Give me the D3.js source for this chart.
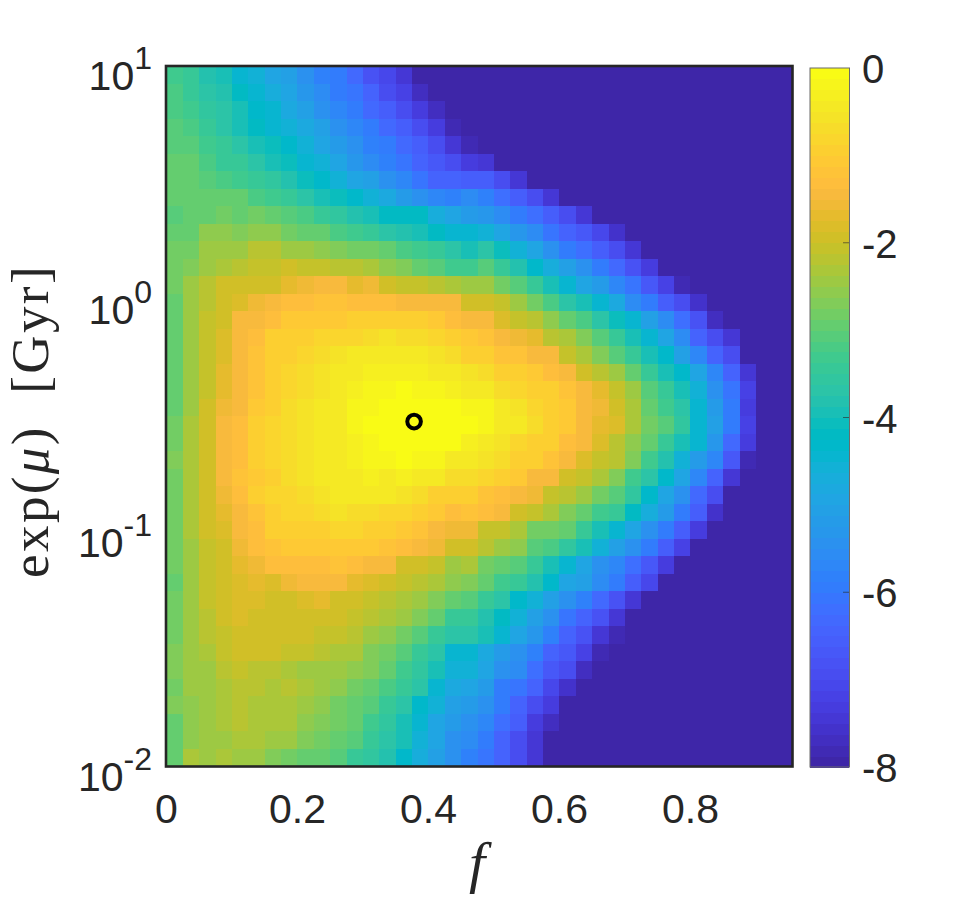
<!DOCTYPE html>
<html><head><meta charset="utf-8">
<script src="https://cdn.jsdelivr.net/npm/d3@7/dist/d3.min.js"></script>
<style>html,body{margin:0;padding:0;background:#fff}svg{display:block}text{fill:#262626}</style>
</head><body><svg id="c" width="973" height="903"></svg>
<script>
const xTicks = [0, 0.2, 0.4, 0.6, 0.8];
const yTickExponents = [1, 0, -1, -2];
const colorbarTicks = [0, -2, -4, -6, -8];
const colStep = 0.025;
const columnCount = 39;
const floorValue = -8;
const bestFit = {f: 0.378, mu: 0.30};
const parula = [[.2422,.1504,.6603],[.2504,.165,.7076],[.2578,.1818,.7511],[.2647,.1978,.7952],[.2706,.2147,.8364],[.2751,.2342,.871],[.2783,.2559,.8991],[.2803,.2782,.9221],[.2813,.3006,.9414],[.281,.3228,.9579],[.2795,.3447,.9717],[.276,.3667,.9829],[.2699,.3892,.9906],[.2602,.4123,.9952],[.244,.4358,.9988],[.2206,.4603,.9973],[.1963,.4847,.9892],[.1834,.5074,.9798],[.1786,.5289,.9682],[.1764,.5499,.952],[.1687,.5703,.9359],[.154,.5902,.9218],[.146,.6091,.9079],[.138,.6276,.8973],[.1248,.6459,.8883],[.1113,.6635,.8763],[.0952,.6798,.8598],[.0689,.6948,.8394],[.0297,.7082,.8163],[.0036,.7203,.7917],[.0067,.7312,.766],[.0433,.7411,.7394],[.0964,.75,.712],[.1408,.7584,.6842],[.1717,.767,.6554],[.1938,.7758,.6251],[.2161,.7843,.5923],[.247,.7918,.5567],[.2906,.7973,.5188],[.3406,.8008,.4789],[.3909,.8029,.4354],[.4456,.8024,.3909],[.5044,.7993,.348],[.5616,.7942,.3045],[.6174,.7876,.2612],[.672,.7793,.2227],[.7242,.7698,.191],[.7738,.7598,.1646],[.8203,.7498,.1535],[.8634,.7406,.1596],[.9035,.733,.1774],[.9393,.7288,.21],[.9728,.7298,.2394],[.9956,.7434,.2371],[.997,.7659,.2199],[.9952,.7893,.2028],[.9892,.8136,.1885],[.9786,.8386,.1766],[.9676,.8639,.1643],[.961,.889,.1537],[.9597,.9135,.1423],[.9628,.9373,.1265],[.9691,.9606,.1064],[.9769,.9839,.0805]];
// log-probability per row (top = exp(mu)=10 down to 0.01), per f column; cells past a row's end sit at the floor
const logProb = [
[-3.3,-3.5,-3.8,-3.9,-4.4,-4.6,-4.9,-5.1,-5.5,-5.8,-6.0,-6.3,-6.8,-7.1,-7.4],
[-3.2,-3.4,-3.7,-3.8,-4.2,-4.5,-4.7,-5.0,-5.3,-5.6,-5.9,-6.1,-6.5,-6.9,-7.2,-7.7],
[-3.2,-3.3,-3.6,-3.7,-4.0,-4.3,-4.5,-4.8,-5.1,-5.4,-5.7,-6.0,-6.3,-6.6,-6.9,-7.3,-7.7],
[-3.1,-3.2,-3.4,-3.7,-3.9,-4.2,-4.4,-4.6,-4.8,-5.1,-5.4,-5.7,-6.0,-6.3,-6.6,-6.9,-7.3,-7.8],
[-3.1,-3.1,-3.3,-3.5,-3.7,-3.9,-4.1,-4.3,-4.6,-4.9,-5.2,-5.5,-5.8,-6.0,-6.3,-6.6,-7.0,-7.4,-7.8,-7.9],
[-3.0,-3.0,-3.2,-3.4,-3.5,-3.7,-3.9,-4.1,-4.4,-4.6,-5.0,-5.3,-5.6,-5.8,-6.1,-6.4,-6.7,-7.0,-7.3,-7.4,-7.9],
[-3.0,-3.0,-3.1,-3.2,-3.3,-3.4,-3.6,-3.8,-4.1,-4.3,-4.6,-4.9,-5.1,-5.5,-5.7,-6.1,-6.4,-6.5,-6.6,-6.6,-6.9,-7.4,-7.9],
[-3.0,-3.0,-3.0,-3.0,-3.0,-3.2,-3.3,-3.4,-3.7,-3.9,-4.1,-4.3,-4.6,-4.8,-5.2,-5.4,-5.7,-5.8,-5.6,-5.8,-6.2,-6.6,-7.0,-7.4,-7.9],
[-3.1,-2.9,-2.9,-2.8,-2.9,-2.8,-2.9,-3.1,-3.2,-3.4,-3.6,-3.8,-3.9,-4.2,-4.2,-4.2,-4.7,-5.0,-5.2,-5.3,-5.6,-5.9,-6.2,-6.6,-7.0,-7.4,-7.9],
[-3.0,-2.9,-2.6,-2.6,-2.7,-2.6,-2.6,-2.8,-2.9,-3.0,-3.2,-3.3,-3.5,-3.7,-3.8,-3.9,-4.2,-4.4,-4.5,-4.6,-4.9,-5.3,-5.6,-6.1,-6.5,-6.7,-7.1,-7.6,-7.9],
[-2.8,-2.8,-2.5,-2.4,-2.4,-2.2,-2.2,-2.4,-2.5,-2.6,-2.7,-2.8,-2.8,-3.0,-3.2,-3.3,-3.5,-3.7,-3.9,-3.7,-4.1,-4.6,-5.0,-5.5,-5.9,-6.2,-6.6,-6.9,-7.5,-7.9],
[-2.8,-2.7,-2.4,-2.3,-2.2,-2.1,-2.1,-2.0,-2.1,-2.1,-2.2,-2.2,-2.3,-2.6,-2.7,-2.9,-3.1,-3.3,-3.3,-3.1,-3.4,-3.8,-4.3,-4.7,-5.1,-5.5,-5.9,-6.3,-6.8,-7.3,-7.9],
[-2.8,-2.5,-2.2,-2.0,-2.0,-1.9,-1.9,-1.7,-1.6,-1.5,-1.5,-1.7,-1.6,-1.9,-2.1,-2.1,-2.2,-2.3,-2.4,-2.5,-2.8,-3.1,-3.5,-4.0,-4.4,-4.9,-5.2,-5.7,-6.1,-6.7,-7.2,-7.8],
[-2.9,-2.5,-2.2,-1.9,-1.8,-1.6,-1.5,-1.3,-1.3,-1.2,-1.2,-1.3,-1.3,-1.3,-1.5,-1.4,-1.5,-1.5,-1.9,-1.9,-2.1,-2.4,-2.8,-3.2,-3.7,-4.0,-4.5,-4.8,-5.6,-6.0,-6.6,-7.0,-7.6],
[-2.9,-2.4,-2.1,-1.9,-1.5,-1.4,-1.3,-1.1,-1.1,-1.1,-1.1,-1.0,-0.9,-0.9,-0.9,-1.0,-1.1,-1.3,-1.4,-1.5,-1.8,-2.1,-2.2,-2.6,-2.9,-3.2,-3.7,-4.1,-4.5,-5.1,-5.6,-6.2,-6.8,-7.7],
[-2.9,-2.4,-2.1,-1.8,-1.5,-1.3,-1.0,-1.0,-0.9,-0.8,-0.8,-0.8,-0.7,-0.6,-0.7,-0.7,-0.8,-1.0,-1.1,-1.2,-1.4,-1.6,-1.7,-2.2,-2.3,-2.7,-3.1,-3.4,-3.9,-4.5,-5.0,-5.6,-6.4,-6.9,-7.5],
[-2.9,-2.5,-2.1,-1.8,-1.5,-1.2,-1.0,-0.9,-0.8,-0.7,-0.6,-0.5,-0.5,-0.4,-0.5,-0.5,-0.6,-0.7,-0.9,-1.0,-1.2,-1.2,-1.4,-1.5,-2.1,-2.3,-2.7,-3.1,-3.4,-4.0,-4.3,-5.1,-5.7,-6.4,-7.0],
[-2.9,-2.5,-2.1,-1.7,-1.5,-1.2,-0.9,-0.8,-0.7,-0.6,-0.5,-0.4,-0.3,-0.3,-0.3,-0.3,-0.4,-0.5,-0.6,-0.7,-1.0,-1.0,-1.1,-1.3,-1.4,-2.0,-2.2,-2.5,-3.0,-3.4,-3.9,-4.3,-5.0,-5.7,-6.4,-7.5],
[-2.9,-2.4,-2.1,-1.7,-1.4,-1.2,-0.9,-0.8,-0.7,-0.6,-0.4,-0.3,-0.2,-0.2,-0.1,-0.2,-0.2,-0.3,-0.4,-0.5,-0.7,-0.8,-0.9,-1.0,-1.2,-1.4,-1.7,-2.1,-2.5,-3.1,-3.5,-3.9,-4.6,-5.4,-6.1,-7.2],
[-2.9,-2.4,-2.0,-1.6,-1.4,-1.1,-0.9,-0.7,-0.6,-0.5,-0.4,-0.2,-0.2,-0.1,-0.1,0,-0.1,-0.1,-0.2,-0.2,-0.5,-0.6,-0.8,-0.9,-1.1,-1.4,-1.6,-2.0,-2.3,-2.9,-3.3,-3.7,-4.5,-5.2,-6.0,-7.3],
[-2.8,-2.3,-2.0,-1.5,-1.3,-1.0,-0.8,-0.7,-0.6,-0.5,-0.4,-0.2,-0.1,-0.1,0,0,0,-0.1,-0.1,-0.2,-0.4,-0.5,-0.7,-0.9,-1.1,-1.4,-1.7,-1.8,-2.3,-2.8,-3.1,-3.6,-4.5,-5.1,-5.9,-7.2],
[-2.8,-2.3,-2.0,-1.5,-1.3,-1.0,-0.8,-0.7,-0.6,-0.5,-0.5,-0.3,-0.2,-0.1,-0.1,-0.1,0,-0.1,-0.3,-0.5,-0.6,-0.8,-0.9,-1.0,-1.3,-1.5,-1.8,-2.2,-2.6,-3.0,-3.4,-3.9,-4.5,-5.3,-6.3,-7.3],
[-2.7,-2.3,-2.0,-1.5,-1.3,-1.0,-0.8,-0.7,-0.6,-0.5,-0.4,-0.3,-0.2,-0.2,-0.1,-0.2,-0.2,-0.4,-0.4,-0.6,-0.7,-1.0,-1.0,-1.2,-1.5,-1.8,-2.1,-2.2,-2.7,-3.3,-3.8,-4.6,-5.2,-5.7,-6.7,-7.8],
[-2.8,-2.3,-2.0,-1.5,-1.2,-1.1,-0.9,-0.7,-0.6,-0.5,-0.5,-0.4,-0.3,-0.4,-0.3,-0.4,-0.5,-0.7,-0.7,-0.8,-1.0,-1.1,-1.4,-1.4,-1.9,-2.1,-2.3,-2.7,-3.3,-3.7,-4.3,-5.0,-5.7,-6.5,-7.4],
[-2.8,-2.3,-1.9,-1.6,-1.3,-1.0,-0.8,-0.8,-0.7,-0.6,-0.5,-0.5,-0.5,-0.5,-0.6,-0.7,-0.9,-1.0,-1.0,-1.2,-1.3,-1.5,-1.6,-2.1,-2.2,-2.4,-2.8,-3.1,-3.6,-4.3,-4.9,-5.5,-6.3,-7.0],
[-2.8,-2.3,-2.0,-1.7,-1.4,-1.2,-0.9,-0.8,-0.8,-0.7,-0.6,-0.7,-0.7,-0.8,-0.8,-1.0,-1.1,-1.3,-1.2,-1.3,-1.5,-1.9,-2.1,-2.3,-2.7,-2.9,-3.3,-3.5,-4.2,-4.7,-5.2,-6.0,-6.6,-7.6],
[-2.8,-2.3,-2.0,-1.8,-1.4,-1.3,-1.0,-1.0,-0.9,-0.9,-0.8,-0.8,-0.9,-0.9,-1.1,-1.2,-1.4,-1.6,-1.6,-2.1,-2.1,-2.3,-2.8,-2.8,-3.0,-3.4,-3.9,-4.4,-5.0,-5.5,-6.0,-6.6,-7.3],
[-2.8,-2.4,-2.1,-1.9,-1.6,-1.3,-1.2,-1.1,-1.1,-1.1,-1.1,-1.1,-1.1,-1.2,-1.3,-1.4,-1.6,-2.0,-2.0,-2.2,-2.4,-2.6,-3.1,-3.2,-3.6,-3.9,-4.6,-5.1,-5.5,-5.9,-6.6,-7.2],
[-2.8,-2.4,-2.1,-1.9,-1.7,-1.6,-1.3,-1.3,-1.3,-1.3,-1.2,-1.3,-1.4,-1.4,-1.9,-2.0,-2.1,-2.4,-2.3,-2.8,-3.0,-3.1,-3.5,-3.9,-4.5,-4.9,-5.4,-5.7,-6.2,-6.7,-7.3],
[-2.9,-2.4,-2.1,-2.0,-1.8,-1.7,-1.8,-1.6,-1.4,-1.4,-1.5,-1.7,-1.8,-1.9,-2.1,-2.2,-2.3,-2.6,-2.7,-3.0,-3.3,-3.5,-3.8,-4.3,-4.9,-5.1,-5.6,-6.0,-6.6,-7.1],
[-2.8,-2.5,-2.1,-2.0,-1.8,-1.8,-1.9,-1.9,-1.8,-1.7,-1.9,-2.0,-2.1,-2.2,-2.3,-2.5,-2.7,-3.0,-3.1,-3.5,-3.7,-4.3,-4.6,-5.1,-5.4,-5.8,-6.3,-6.8,-7.4],
[-2.8,-2.5,-2.2,-2.0,-1.8,-1.9,-1.9,-2.0,-1.9,-1.9,-2.0,-2.1,-2.2,-2.3,-2.4,-2.7,-3.0,-3.4,-3.4,-3.8,-4.2,-4.6,-5.1,-5.5,-6.1,-6.4,-6.8,-7.4,-7.9],
[-2.8,-2.4,-2.2,-2.1,-2.0,-1.9,-1.9,-2.0,-2.0,-2.1,-2.1,-2.2,-2.4,-2.6,-2.8,-3.1,-3.4,-3.7,-3.7,-4.0,-4.5,-4.9,-5.3,-5.8,-6.4,-6.8,-7.4,-7.8],
[-2.7,-2.4,-2.3,-2.1,-2.0,-2.0,-2.0,-2.1,-2.1,-2.2,-2.3,-2.3,-2.7,-2.8,-3.1,-3.4,-3.7,-4.5,-4.5,-4.8,-5.2,-5.5,-5.8,-6.4,-6.7,-7.2,-7.8],
[-2.7,-2.5,-2.4,-2.2,-2.1,-2.2,-2.2,-2.3,-2.4,-2.4,-2.5,-2.6,-2.7,-3.0,-3.3,-3.6,-4.0,-4.6,-4.6,-5.0,-5.4,-5.6,-6.2,-6.7,-7.0,-7.7],
[-2.8,-2.5,-2.4,-2.3,-2.2,-2.2,-2.3,-2.2,-2.3,-2.5,-2.6,-2.8,-3.0,-3.2,-3.5,-3.7,-4.4,-4.8,-5.0,-5.2,-5.9,-6.1,-6.5,-7.1,-7.6],
[-2.7,-2.6,-2.4,-2.3,-2.2,-2.3,-2.3,-2.3,-2.5,-2.6,-2.8,-2.9,-3.1,-3.4,-3.7,-4.3,-4.6,-5.1,-5.2,-5.4,-5.9,-6.4,-6.9,-7.3,-7.9],
[-3.0,-2.6,-2.5,-2.3,-2.2,-2.3,-2.3,-2.3,-2.6,-2.7,-2.8,-3.0,-3.3,-3.6,-3.9,-4.5,-4.9,-5.2,-5.4,-5.7,-6.2,-6.6,-7.3,-7.7],
[-2.9,-2.6,-2.5,-2.4,-2.3,-2.3,-2.4,-2.5,-2.7,-2.8,-2.9,-3.1,-3.4,-3.7,-4.0,-4.6,-5.0,-5.4,-5.6,-5.9,-6.5,-6.9,-7.4,-7.9],
[-2.9,-2.3,-2.5,-2.3,-2.4,-2.4,-2.7,-2.8,-2.9,-3.0,-3.1,-3.4,-3.6,-3.8,-4.3,-4.7,-5.1,-5.5,-5.8,-6.1,-6.5,-7.0,-7.5]
];
const svg = d3.select("#c");
const x = d3.scaleLinear().domain([0, 0.955]).range([166.5, 792]);
const y = d3.scaleLog().domain([0.01, 10]).range([766.5, 66]);
const cb = d3.scaleLinear().domain([floorValue, 0]).range([767, 68]);
const hex = parula.map(c => d3.rgb(c[0]*255, c[1]*255, c[2]*255).formatHex());
const color = d3.scaleQuantize().domain([floorValue, 0]).range(hex);
const rowCount = logProb.length;
const rowExp = i => 1 - 3 * i / rowCount;
const cells = logProb.flatMap((row, r) => d3.range(columnCount).map(c => ({r, c, v: c < row.length ? row[c] : floorValue})));
const g = svg.append("g").attr("shape-rendering", "crispEdges");
g.selectAll("rect").data(cells).join("rect")
  .attr("x", d => x(d.c * colStep))
  .attr("width", d => Math.min(x(0.955), x((d.c + 1) * colStep)) - x(d.c * colStep))
  .attr("y", d => y(Math.pow(10, rowExp(d.r))))
  .attr("height", d => y(Math.pow(10, rowExp(d.r + 1))) - y(Math.pow(10, rowExp(d.r))))
  .attr("fill", d => color(d.v));
svg.append("rect").attr("x", 166).attr("y", 66).attr("width", 626.5).attr("height", 700.5)
  .attr("fill", "none").attr("stroke", "#262626").attr("stroke-width", 2.6);
svg.append("circle").attr("cx", x(bestFit.f)).attr("cy", y(bestFit.mu)).attr("r", 6.8)
  .attr("fill", "none").attr("stroke", "#000").attr("stroke-width", 4);
const tickFont = "Liberation Sans, Arial, sans-serif";
svg.append("g").selectAll("text").data(xTicks).join("text")
  .attr("x", d => x(d)).attr("y", 823).attr("text-anchor", "middle")
  .attr("font-family", tickFont).attr("font-size", 41).text(d => d);
const yt = svg.append("g").selectAll("text").data(yTickExponents).join("text")
  .attr("x", 152).attr("y", d => y(Math.pow(10, d)) + 24).attr("text-anchor", "end")
  .attr("font-family", tickFont).attr("font-size", 41);
yt.append("tspan").text("10");
yt.append("tspan").attr("dy", -21).attr("font-size", 32).text(d => d);
svg.append("g").selectAll("rect").data(hex).join("rect").attr("shape-rendering", "crispEdges")
  .attr("x", 810).attr("width", 39)
  .attr("y", (d, i) => cb(floorValue * (1 - (i + 1) / hex.length)))
  .attr("height", (cb(floorValue) - cb(0)) / hex.length + 0.5)
  .attr("fill", d => d);
svg.append("rect").attr("x", 810).attr("y", 68).attr("width", 39.5).attr("height", 699)
  .attr("fill", "none").attr("stroke", "#6b6b6b").attr("stroke-width", 1);
svg.append("g").selectAll("line").data(colorbarTicks.slice(1, -1)).join("line")
  .attr("x1", 843).attr("x2", 849).attr("y1", d => cb(d)).attr("y2", d => cb(d))
  .attr("stroke", "#262626").attr("stroke-opacity", .6).attr("stroke-width", 1);
svg.append("g").selectAll("text").data(colorbarTicks).join("text")
  .attr("x", 862).attr("y", d => cb(d) + 15).attr("font-family", tickFont)
  .attr("font-size", 40).text(d => d);
const mathFont = "Liberation Serif, Times New Roman, serif";
const yl = svg.append("text").attr("transform", "translate(48,421) rotate(-90)").attr("text-anchor", "middle")
  .attr("font-family", mathFont).attr("font-size", 53).attr("letter-spacing", 2.4).attr("xml:space", "preserve");
yl.append("tspan").text("exp(");
yl.append("tspan").attr("font-style", "italic").text("μ");
yl.append("tspan").text(")  [Gyr]");
svg.append("text").attr("x", 477).attr("y", 882).attr("text-anchor", "middle")
  .attr("font-family", mathFont).attr("font-style", "italic").attr("font-size", 58).text("f");
</script></body></html>
